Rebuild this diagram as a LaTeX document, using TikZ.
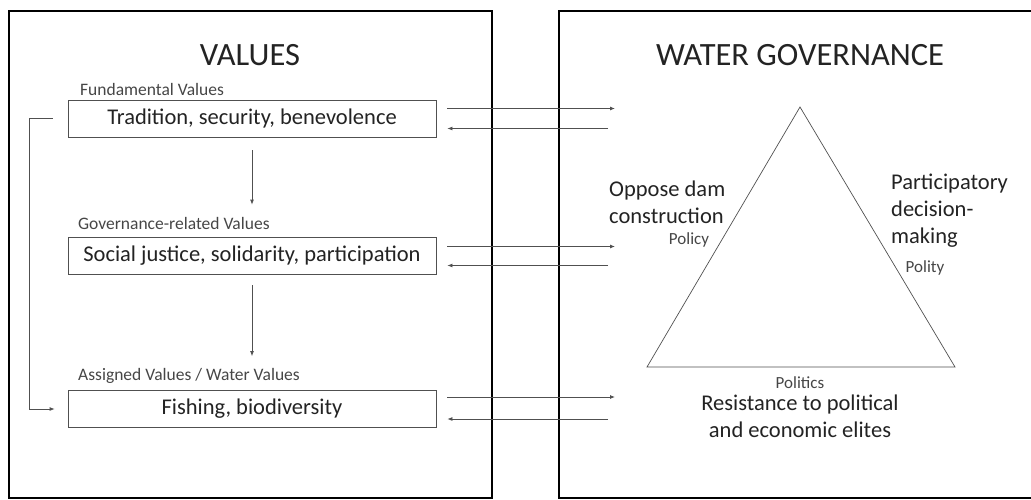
\documentclass[tikz,border=0pt]{standalone}
\usepackage{fontspec}
\setmainfont{Carlito}
\usepackage{xcolor}
\usetikzlibrary{positioning, arrows.meta}
\definecolor{linegray}{RGB}{80,80,80}
\definecolor{labelgray}{RGB}{70,70,70}
\definecolor{textdark}{RGB}{35,35,35}

\begin{document}
\begin{tikzpicture}[x=1pt, y=-1pt,
  frame/.style={draw=black, line width=2.6pt},
  valbox/.style={rectangle, draw=linegray, line width=0.8pt, minimum width=368pt, minimum height=37pt, inner sep=0pt, text=textdark, font=\fontsize{22.5}{22.5}\selectfont},
  sublabel/.style={anchor=west, inner sep=0pt, text=labelgray, font=\fontsize{17.5}{17.5}\selectfont},
  corner/.style={inner sep=0pt, text=labelgray, font=\fontsize{17}{17}\selectfont},
  title/.style={inner sep=0pt, text=textdark, font=\fontsize{32.5}{32.5}\selectfont},
  sidetext/.style={inner sep=0pt, text=textdark, font=\fontsize{22.5}{27}\selectfont},
  flow/.style={draw=linegray, line width=0.8pt, -{Latex[length=5pt,width=4pt]}},
  tri/.style={draw=linegray, line width=0.7pt}
]
\useasboundingbox (0,0) rectangle (1031,500);

% outer frames
\draw[frame] (9,11) rectangle (492,498);
\draw[frame] (1045,11) -- (559,11) -- (559,498) -- (1045,498);

% left side: values
\node[title] (valtitle) at (250,55) {VALUES};
\node[sublabel] (fundlbl) at (80,89) {Fundamental Values};
\node[valbox] (fund) at (252,118.5) {Tradition, security, benevolence};
\node[sublabel] (govlbl) at (78,223) {Governance-related Values};
\node[valbox] (gov) at (252,255.5) {Social justice, solidarity, participation};
\node[sublabel] (assiglbl) at (78,376) {Assigned Values / Water Values};
\node[valbox] (assig) at (252,409) {Fishing, biodiversity};

\draw[flow, shorten <=13pt, shorten >=32pt] (fund) -- (gov);
\draw[flow, shorten <=11pt, shorten >=34pt] (gov) -- (assig);

\coordinate (loopx) at (29,0);
\draw[flow, shorten <=15pt, shorten >=13pt] (fund.west) -- (fund.west -| loopx) -- (assig.west -| loopx) -- (assig.west);

% right side: water governance
\node[title] (wgtitle) at (800,55) {WATER GOVERNANCE};
\coordinate (apex) at (800,107);
\coordinate (baseleft) at (647,367);
\coordinate (baseright) at (955,367);
\draw[tri] (apex) -- (baseright) -- (baseleft) -- cycle;

\node[sidetext, anchor=north west, align=left] (oppose) at (609,181) {Oppose dam\\construction};
\node[corner] (policy) at (689,240) {Policy};
\node[sidetext, anchor=north west, align=left] (partic) at (891,174) {Participatory\\decision-\\making};
\node[corner] (polity) at (925,268) {Polity};
\node[corner] (politics) at (800,383) {Politics};
\node[sidetext, align=center] (resist) at (800,416) {Resistance to political\\and economic elites};

% links between the two sides
\coordinate (govin) at (615,0);
\coordinate (govout) at (608,0);
\draw[flow, shorten <=11pt] ([yshift=10pt]fund.east) -- ([yshift=10pt]fund.east -| govin);
\draw[flow, shorten >=11pt] ([yshift=-10pt]fund.east -| govout) -- ([yshift=-10pt]fund.east);
\draw[flow, shorten <=11pt] ([yshift=9pt]gov.east) -- ([yshift=9pt]gov.east -| govin);
\draw[flow, shorten >=11pt] ([yshift=-10pt]gov.east -| govout) -- ([yshift=-10pt]gov.east);
\draw[flow, shorten <=11pt] ([yshift=12pt]assig.east) -- ([yshift=12pt]assig.east -| govin);
\draw[flow, shorten >=11pt] ([yshift=-10pt]assig.east -| govout) -- ([yshift=-10pt]assig.east);
\end{tikzpicture}
\end{document}
